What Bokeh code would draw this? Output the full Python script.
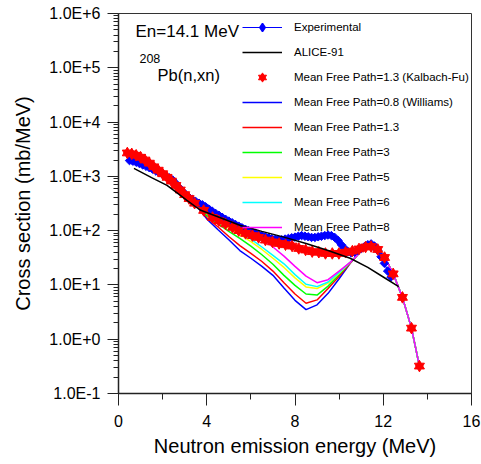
import math
from bokeh.plotting import figure
from bokeh.models import (ColumnDataSource, FixedTicker, SingleIntervalTicker,
                          Legend, LegendItem, Label, Range1d)
from bokeh.embed import file_html
from bokeh.resources import INLINE

# ---------------- data ----------------
exp_x = [0.5, 0.65, 0.8, 0.95, 1.1, 1.25, 1.4, 1.55, 1.7, 1.85, 2.0, 2.15, 2.3, 2.45,
         2.6, 2.75, 2.9, 3.05, 3.2, 3.35, 3.5, 3.65, 3.8, 3.95, 4.1, 4.25, 4.4, 4.55,
         4.7, 4.85, 5.0, 5.15, 5.3, 5.45, 5.6, 5.75, 5.9, 6.05, 6.2, 6.35, 6.5, 6.65,
         6.8, 6.95, 7.1, 7.25, 7.4, 7.55, 7.7, 7.85, 8.0, 8.15, 8.3, 8.45, 8.6, 8.75,
         8.9, 9.05, 9.2, 9.35, 9.5, 9.65, 9.8, 9.95, 10.1, 10.25, 10.4, 10.55, 10.7,
         10.85, 11.0, 11.15, 11.3, 11.45, 11.6, 11.75, 11.9, 12.05, 12.2, 12.35]
exp_y = [1950, 1900, 1820, 1720, 1620, 1530, 1440, 1350, 1250, 1160, 1080, 1000, 940, 860,
         740, 620, 530, 460, 410, 375, 345, 320, 300, 275, 250, 228, 208, 192,
         176, 162, 150, 140, 130, 121, 113, 106, 100, 95, 90, 85, 81, 77,
         74, 71, 69, 68, 68, 70, 72, 74, 76, 79, 81, 79, 77, 75,
         75, 77, 79, 81, 83, 81, 75, 66, 55, 47, 41, 39, 40,
         43, 47, 51, 55, 57, 52, 43, 33, 25, 18, 14]

alice_x = [0.7, 1.5, 2.2, 2.7, 3.1, 3.7, 4.5, 5.5, 6.5, 7.5, 8.5, 9.5, 10.5, 11.3, 12.0, 12.7]
alice_y = [1400, 950, 680, 480, 360, 240, 180, 126, 97, 76, 58, 43, 31, 21, 14, 9.3]

kf_x = [0.4, 0.6, 0.8, 1.0, 1.2, 1.4, 1.6, 1.8, 2.0, 2.2, 2.4, 2.6, 2.8, 3.0, 3.2, 3.45,
        3.86, 4.26, 4.55, 4.85, 5.17, 5.45, 5.76, 6.07, 6.35, 6.66, 6.98, 7.28, 7.57,
        7.87, 8.17, 8.48, 8.78, 9.08, 9.38, 9.69, 9.99, 10.29, 10.6, 10.9, 11.2, 11.45,
        11.75, 12.06, 12.45, 12.87, 13.28, 13.64]
kf_y = [2700, 2600, 2450, 2250, 2000, 1750, 1500, 1300, 1120, 960, 820, 680, 560, 460, 390, 320,
        236, 175, 152, 133, 115, 100, 89, 81, 75, 67, 62, 58, 55,
        52, 47, 44, 41, 40, 38, 38, 38, 40, 42, 46, 50, 51,
        45, 32, 16, 5.9, 1.6, 0.32]

mfp_x = [0.4, 1.0, 1.5, 2.0, 2.5, 3.0, 3.5, 4.0, 4.5, 5.0, 5.5, 6.0, 6.5, 7.0, 7.5, 8.0,
         8.5, 9.0, 9.5, 10.0, 10.5, 11.0, 11.4, 11.8, 12.1, 12.45, 12.87, 13.28, 13.64]
mfp08_y = [2700, 2250, 1650, 1150, 760, 480, 300, 165, 105, 68, 43, 31, 22, 15, 8.8, 5.2,
           3.5, 4.3, 7.0, 13, 25, 42, 55, 43, 31, 16, 5.9, 1.6, 0.32]
mfp13_y = [2700, 2250, 1650, 1150, 760, 480, 305, 175, 118, 78, 53, 38, 27, 18, 11, 6.8,
           4.6, 5.3, 8.6, 14.5, 25, 42, 55, 43, 31, 16, 5.9, 1.6, 0.32]
mfp3_y = [2700, 2250, 1650, 1150, 760, 480, 310, 190, 135, 97, 72, 52, 36, 24, 15, 9.8,
          6.8, 6.5, 9.5, 15.5, 26, 42, 55, 43, 31, 16, 5.9, 1.6, 0.32]
mfp5_y = [2700, 2250, 1650, 1150, 760, 480, 315, 210, 150, 110, 85, 63, 45, 31, 21, 13.5,
          9.2, 8.6, 10.8, 16.5, 26, 42, 55, 43, 31, 16, 5.9, 1.6, 0.32]
mfp6_y = [2700, 2250, 1650, 1150, 760, 480, 318, 225, 160, 120, 95, 70, 50, 35, 24.5, 15.5,
          10.3, 9.3, 11.3, 17, 26, 42, 55, 43, 31, 16, 5.9, 1.6, 0.32]
mfp8_y = [2700, 2250, 1650, 1150, 760, 480, 330, 260, 190, 150, 120, 92, 70, 50, 34, 22,
          14.5, 11, 12.5, 18, 26, 42, 55, 43, 31, 16, 5.9, 1.6, 0.32]

x_ticks = [0, 4, 8, 12, 16]
y_ticks = [1e-1, 1e0, 1e1, 1e2, 1e3, 1e4, 1e5, 1e6]
y_tick_labels = ["1.0E-1", "1.0E+0", "1.0E+1", "1.0E+2", "1.0E+3", "1.0E+4", "1.0E+5", "1.0E+6"]

labels = ["Experimental", "ALICE-91", "Mean Free Path=1.3 (Kalbach-Fu)",
          "Mean Free Path=0.8 (Williams)", "Mean Free Path=1.3", "Mean Free Path=3",
          "Mean Free Path=5", "Mean Free Path=6", "Mean Free Path=8"]

FONT = "Liberation Sans"
NAN = float("nan")

# ---------------- figure ----------------
p = figure(width=481, height=464, y_axis_type="log",
           x_range=Range1d(0, 16), y_range=Range1d(0.1, 1e6),
           output_backend="svg", toolbar_location=None,
           min_border_left=118, min_border_right=10,
           min_border_top=13, min_border_bottom=71)
p.xgrid.visible = False
p.ygrid.visible = False
p.outline_line_color = "#333333"
p.outline_line_width = 1
p.background_fill_color = "white"
p.border_fill_color = "white"

# axes
p.xaxis.ticker = SingleIntervalTicker(interval=4, num_minor_ticks=2)
minor = [m * 10 ** e for e in range(-1, 6) for m in range(2, 10)]
p.yaxis.ticker = FixedTicker(ticks=y_ticks, minor_ticks=minor)
p.yaxis.major_label_overrides = {t: l for t, l in zip(y_ticks, y_tick_labels)}

for ax in (p.xaxis[0], p.yaxis[0]):
    ax.axis_line_width = 1.5
    ax.axis_line_color = "#222222"
    ax.major_tick_line_color = "#222222"
    ax.minor_tick_line_color = "#222222"
    ax.major_tick_in = 0
    ax.minor_tick_in = 0
    ax.major_label_text_font = FONT
    ax.major_label_text_font_size = "16px"
    ax.major_label_text_color = "black"
    ax.axis_label_text_font = FONT
    ax.axis_label_text_font_size = "20px"
    ax.axis_label_text_font_style = "normal"
    ax.axis_label_text_color = "black"

p.xaxis.major_tick_out = 12
p.xaxis.minor_tick_out = 6
p.xaxis.major_label_standoff = 9
p.xaxis.axis_label_standoff = 5
p.xaxis.axis_label = "Neutron emission energy (MeV)"

p.yaxis.major_tick_out = 11
p.yaxis.minor_tick_out = 5
p.yaxis.major_label_standoff = 7
p.yaxis.axis_label_standoff = 12
p.yaxis.axis_label = "Cross section (mb/MeV)"

# ---------------- glyphs ----------------
src_mfp = ColumnDataSource(dict(x=mfp_x, y08=mfp08_y, y13=mfp13_y, y3=mfp3_y,
                                y5=mfp5_y, y6=mfp6_y, y8=mfp8_y))
r08 = p.line("x", "y08", source=src_mfp, line_color="#0000FF", line_width=1.5)
r13 = p.line("x", "y13", source=src_mfp, line_color="#FF0000", line_width=1.5)
r3 = p.line("x", "y3", source=src_mfp, line_color="#00FF00", line_width=1.5)
r5 = p.line("x", "y5", source=src_mfp, line_color="#FFFF00", line_width=1.5)
r6 = p.line("x", "y6", source=src_mfp, line_color="#00FFFF", line_width=1.5)
r8 = p.line("x", "y8", source=src_mfp, line_color="#FF00FF", line_width=1.5)

src_exp = ColumnDataSource(dict(x=exp_x, y=exp_y))
exp_line = p.line("x", "y", source=src_exp, line_color="#0000FF", line_width=1.2)
p.scatter("x", "y", source=src_exp, marker="square", angle=math.pi / 4, size=6,
          fill_color="#0000FF", line_color="#0000FF")
# legend-only marker (bigger); NaN position is never drawn in the plot
exp_leg = p.scatter(x=[NAN], y=[NAN], marker="diamond", size=17, line_width=1.5,
                    fill_color="#0000FF", line_color="#0000FF")

src_kf = ColumnDataSource(dict(x=kf_x, y=kf_y))
kf_a = p.scatter("x", "y", source=src_kf, marker="triangle", size=10,
                 fill_color="#FF0000", line_color="#FF0000")
kf_b = p.scatter("x", "y", source=src_kf, marker="inverted_triangle", size=10,
                 fill_color="#FF0000", line_color="#FF0000")

src_al = ColumnDataSource(dict(x=alice_x, y=alice_y))
ral = p.line("x", "y", source=src_al, line_color="black", line_width=1.5)

# ---------------- legend ----------------
items = [
    LegendItem(label=labels[0], renderers=[exp_line, exp_leg]),
    LegendItem(label=labels[1], renderers=[ral]),
    LegendItem(label=labels[2], renderers=[kf_a, kf_b]),
    LegendItem(label=labels[3], renderers=[r08]),
    LegendItem(label=labels[4], renderers=[r13]),
    LegendItem(label=labels[5], renderers=[r3]),
    LegendItem(label=labels[6], renderers=[r5]),
    LegendItem(label=labels[7], renderers=[r6]),
    LegendItem(label=labels[8], renderers=[r8]),
]
legend = Legend(items=items, location=(124, 156), padding=0, margin=0, spacing=5,
                label_height=20, glyph_height=20, glyph_width=40, label_standoff=12,
                border_line_alpha=0, background_fill_alpha=0,
                label_text_font=FONT, label_text_font_size="11.5px",
                label_text_color="black")
p.add_layout(legend)

# ---------------- annotations ----------------
p.add_layout(Label(x=0.77, y=10 ** 5.668, text="En=14.1 MeV", text_font=FONT,
                   text_font_size="17px", text_baseline="middle", text_color="black"))
p.add_layout(Label(x=0.95, y=10 ** 5.171, text="208", text_font=FONT,
                   text_font_size="12.5px", text_baseline="middle", text_color="black"))
p.add_layout(Label(x=1.77, y=10 ** 4.858, text="Pb(n,xn)", text_font=FONT,
                   text_font_size="16.5px", text_baseline="middle", text_color="black"))

open("out.html", "w").write(file_html(p, INLINE))
